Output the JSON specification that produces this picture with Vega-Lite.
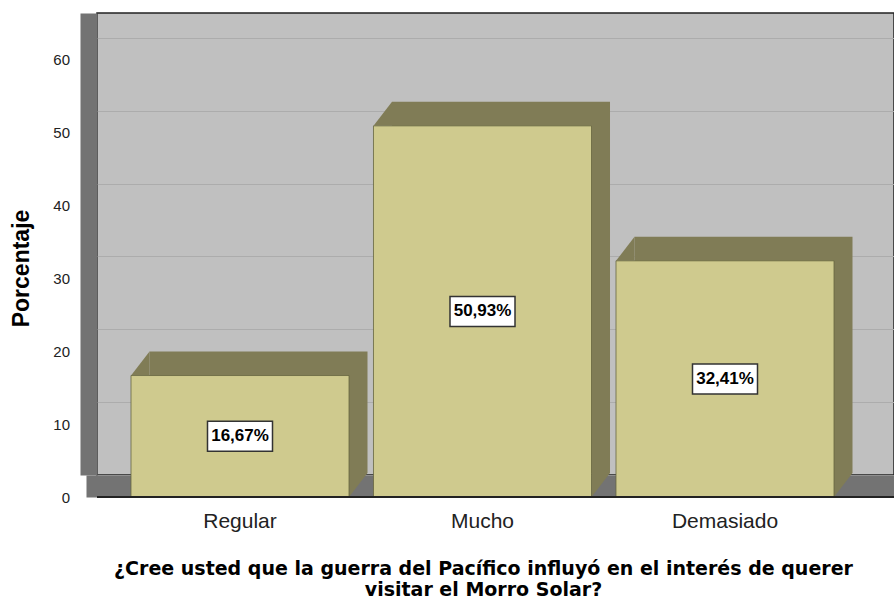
{
  "$schema": "https://vega.github.io/schema/vega-lite/v6.json",
  "width": 797,
  "height": 462,
  "autosize": {"type": "none"},
  "padding": {"left": 97, "top": 13, "right": 0, "bottom": 125},
  "background": "white",
  "config": {
    "font": "Liberation Sans, Arial, sans-serif",
    "view": {"fill": "#c0c0c0", "stroke": "#222222", "strokeWidth": 1.5}
  },
  "data": {
    "values": [
      {"categoria": "Regular", "porcentaje": 16.67, "etiqueta": "16,67%"},
      {"categoria": "Mucho", "porcentaje": 50.93, "etiqueta": "50,93%"},
      {"categoria": "Demasiado", "porcentaje": 32.41, "etiqueta": "32,41%"}
    ]
  },
  "encoding": {
    "x": {
      "field": "categoria",
      "type": "nominal",
      "sort": ["Regular", "Mucho", "Demasiado"],
      "scale": {"paddingInner": 0.101, "paddingOuter": 0.1938, "align": 0.3617, "round": false},
      "axis": {
        "title": ["¿Cree usted que la guerra del Pacífico influyó en el interés de querer", "visitar el Morro Solar?"],
        "labelAngle": 0,
        "ticks": false,
        "tickSize": 0,
        "grid": false,
        "domainColor": "#737373",
        "domainWidth": 22,
        "domainCap": "square",
        "offset": 11,
        "labelFontSize": 21,
        "labelColor": "#222222",
        "labelPadding": 24,
        "titleFont": "DejaVu Sans, Liberation Sans, sans-serif",
        "titleFontSize": 19,
        "titleFontWeight": "bold",
        "titleColor": "#000000",
        "titleLineHeight": 21,
        "titlePadding": 28,
        "titleX": 386
      }
    }
  },
  "layer": [
    {
      "encoding": {
        "y": {
          "field": "porcentaje",
          "type": "quantitative",
          "scale": {"domain": [0, 63.4], "nice": false, "zero": true},
          "axis": {
            "title": "Porcentaje",
            "values": [0, 10, 20, 30, 40, 50, 60],
            "ticks": false,
            "tickSize": 0,
            "grid": true,
            "gridColor": "#acacac",
            "gridWidth": 1,
            "offset": 8.5,
            "domainColor": "#737373",
            "domainWidth": 17,
            "labelOffset": 22,
            "labelPadding": 19,
            "labelFontSize": 15,
            "labelColor": "#222222",
            "titleFontSize": 23,
            "titleFontWeight": "bold",
            "titleColor": "#000000",
            "titlePadding": 19,
            "titleY": 255
          }
        }
      },
      "layer": [
        {
          "mark": {"type": "bar", "fill": "#807c56", "xOffset": 18.5, "x2Offset": 18.5, "yOffset": -2, "y2Offset": -2}
        },
        {
          "mark": {"type": "point", "shape": "M0,0L1.5417,-2L1.5417,0Z", "size": 576, "filled": true, "fill": "#807c56", "opacity": 1, "strokeWidth": 0, "xOffset": -109, "yOffset": 22}
        },
        {
          "mark": {"type": "point", "shape": "M0,0L0,-2L1.5417,-2Z", "size": 576, "filled": true, "fill": "#807c56", "opacity": 1, "strokeWidth": 0, "xOffset": 109, "yOffset": 22},
          "encoding": {"y": {"datum": 0, "type": "quantitative"}}
        },
        {
          "mark": {"type": "bar", "fill": "#cfca8e", "stroke": "#66643f", "strokeWidth": 0.8, "yOffset": 22, "y2Offset": 22}
        },
        {
          "mark": {"type": "rule", "stroke": "#222222", "strokeWidth": 2, "yOffset": 22},
          "encoding": {"y": {"datum": 0, "type": "quantitative"}, "x": null}
        }
      ]
    },
    {
      "encoding": {
        "y": {
          "field": "porcentaje",
          "type": "quantitative",
          "scale": {"domain": [0, 126.8], "nice": false, "zero": true},
          "axis": null
        }
      },
      "layer": [
        {
          "mark": {"type": "point", "shape": "M-1,-0.4615L1,-0.4615L1,0.4615L-1,0.4615Z", "size": 4225, "filled": true, "fill": "#ffffff", "stroke": "#333333", "strokeWidth": 1.5, "opacity": 1, "yOffset": 22}
        },
        {
          "mark": {"type": "text", "font": "Liberation Sans", "fontWeight": "bold", "fontSize": 17, "color": "#000000", "align": "center", "baseline": "middle", "yOffset": 22},
          "encoding": {"text": {"field": "etiqueta", "type": "nominal"}}
        }
      ]
    }
  ],
  "resolve": {"scale": {"y": "independent"}}
}
